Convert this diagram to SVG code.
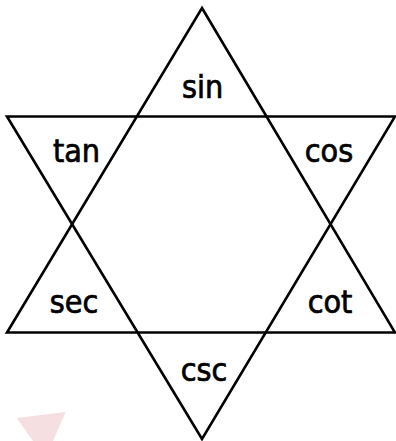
<svg xmlns="http://www.w3.org/2000/svg" width="396" height="441" viewBox="0 0 396 441">
<style>
.tri{fill:none;stroke:#000;stroke-width:2.6;stroke-linejoin:miter}
.lbl{font-family:"DejaVu Sans Condensed","DejaVu Sans",sans-serif;font-stretch:condensed;font-size:32px;text-anchor:middle;fill:#000;stroke:#000;stroke-width:0.7}
</style>
<rect width="396" height="441" fill="#fff"/>
<polygon points="16.7,418 65.7,412 53,441 33,441" fill="#f5dfe1"/>
<g id="star">
<polygon class="tri" points="202,8 395,332.5 7,332.5"/>
<polygon class="tri" points="7,116.5 395,116.5 202,439"/>
</g>
<g id="labels">
<text class="lbl" x="202.5" y="98">sin</text>
<text class="lbl" x="76.5" y="162">tan</text>
<text class="lbl" x="329" y="162">cos</text>
<text class="lbl" x="74" y="313">sec</text>
<text class="lbl" x="330" y="313">cot</text>
<text class="lbl" x="204" y="381">csc</text>
</g>
</svg>
